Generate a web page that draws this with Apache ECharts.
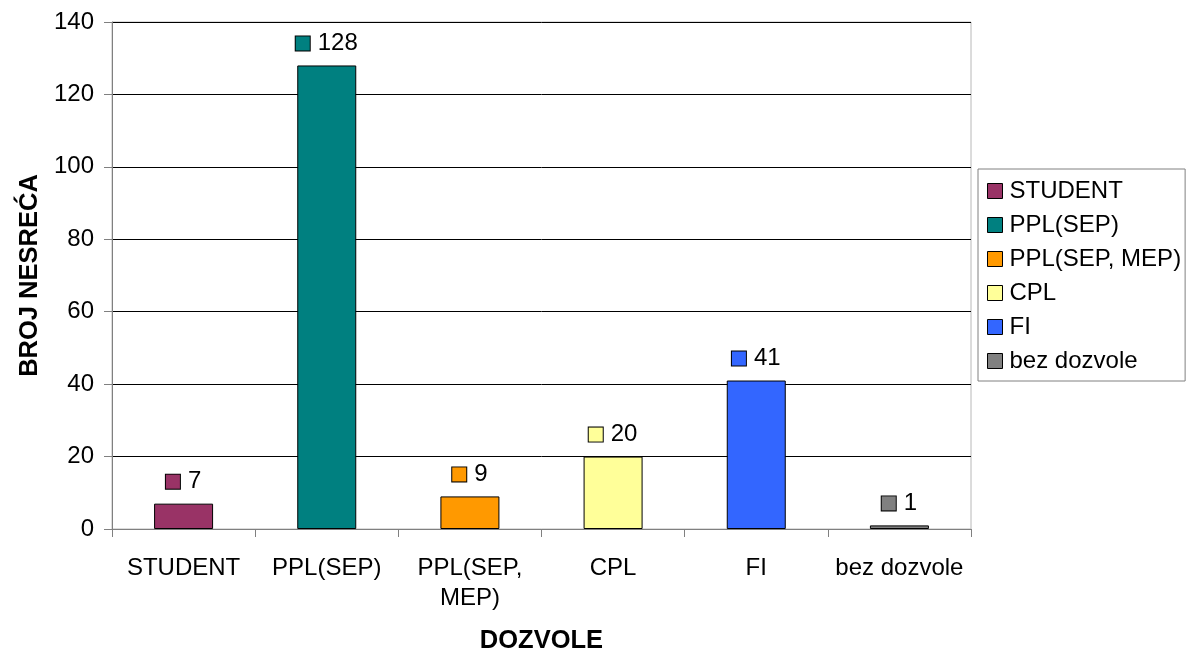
<!DOCTYPE html>
<html>
<head>
<meta charset="utf-8">
<script src="https://cdn.jsdelivr.net/npm/echarts@6/dist/echarts.min.js"></script>
<style>
html,body{margin:0;padding:0;background:#fff;}
#chart{width:1188px;height:650px;}
</style>
</head>
<body>
<div id="chart"></div>
<script>
const categories = ['STUDENT', 'PPL(SEP)', 'PPL(SEP,\nMEP)', 'CPL', 'FI', 'bez dozvole'];
const seriesNames = ['STUDENT', 'PPL(SEP)', 'PPL(SEP, MEP)', 'CPL', 'FI', 'bez dozvole'];
const values = [7, 128, 9, 20, 41, 1];
const colors = ['#993366', '#008080', '#FF9900', '#FFFF99', '#3366FF', '#808080'];
const yTicks = { min: 0, max: 140, interval: 20 };

const FONT = '"Liberation Sans", Arial, sans-serif';
const chart = echarts.init(document.getElementById('chart'), null, { renderer: 'canvas' });

const series = seriesNames.map((name, i) => ({
  name: name,
  type: 'bar',
  stack: 'all',
  barWidth: 59,
  data: categories.map((_, j) => (j === i ? values[i] : '-')),
  itemStyle: { color: colors[i], borderColor: '#000', borderWidth: 1 },
  label: {
    show: true,
    position: 'top',
    distance: 10,
    formatter: p => '{s|}{v|' + p.value + '}',
    rich: {
      s: { width: 14, height: 14, backgroundColor: colors[i], borderColor: '#000', borderWidth: 1 },
      v: { fontSize: 24, color: '#000', fontFamily: FONT, padding: [0, 0, 0, 8] }
    }
  }
}));

chart.setOption({
  animation: false,
  backgroundColor: '#fff',
  color: colors,
  textStyle: { fontFamily: FONT },
  grid: {
    left: 112, right: 217, top: 22, bottom: 121,
    containLabel: false, outerBoundsMode: 'none',
    show: true, borderColor: '#b8b8b8', borderWidth: 1
  },
  legend: {
    orient: 'vertical',
    left: 978,
    top: 169,
    padding: [10, 4, 8, 9],
    borderColor: '#808080',
    borderWidth: 1,
    itemWidth: 15,
    itemHeight: 15,
    itemGap: 10,
    icon: 'rect',
    itemStyle: { borderColor: '#000', borderWidth: 1 },
    textStyle: { fontSize: 24, color: '#000', fontFamily: FONT, lineHeight: 24, padding: [0, 0, 0, 2] },
    data: seriesNames
  },
  xAxis: {
    type: 'category',
    data: categories,
    name: 'DOZVOLE',
    nameLocation: 'middle',
    nameGap: 99,
    nameTextStyle: { fontSize: 25.5, fontWeight: 'bold', color: '#000', fontFamily: FONT },
    axisLine: { lineStyle: { color: '#808080', width: 1 } },
    axisTick: { show: true, alignWithLabel: false, length: 8, lineStyle: { color: '#808080' } },
    axisLabel: { fontSize: 24, color: '#000', margin: 24, lineHeight: 30, fontFamily: FONT, interval: 0 },
    splitLine: { show: false }
  },
  yAxis: {
    type: 'value',
    min: yTicks.min,
    max: yTicks.max,
    interval: yTicks.interval,
    name: 'BROJ NESREĆA',
    nameLocation: 'middle',
    nameRotate: 90,
    nameGap: 67,
    nameTextStyle: { fontSize: 25.5, fontWeight: 'bold', color: '#000', fontFamily: FONT },
    axisLine: { show: true, lineStyle: { color: '#808080', width: 1 } },
    axisTick: { show: true, length: 8, lineStyle: { color: '#808080' } },
    axisLabel: { fontSize: 24, color: '#000', margin: 18, fontFamily: FONT },
    splitLine: { show: true, lineStyle: { color: '#000', width: 1 } }
  },
  series: series
});
</script>
</body>
</html>
